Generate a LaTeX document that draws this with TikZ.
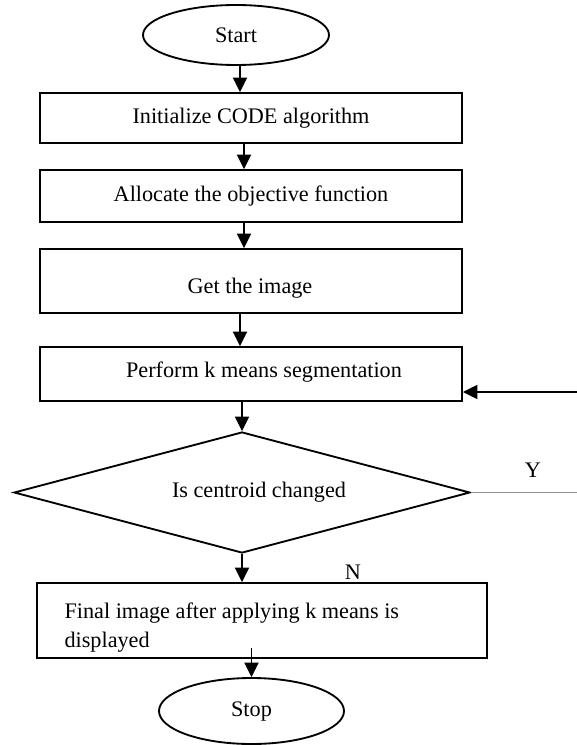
\documentclass[tikz,border=0pt]{standalone}
\usepackage{fontspec}
\setmainfont{Liberation Serif}
\usetikzlibrary{shapes.geometric,arrows.meta,calc}
\begin{document}
\begin{tikzpicture}[x=0.54pt,y=-0.54pt,
  every node/.style={font=\fontsize{12}{15.7}\selectfont},
  flowline/.style={line width=1pt},
  arr/.style={flowline,-{Triangle[length=7.8pt,width=7.6pt]}},
  procbox/.style={draw,flowline,rectangle,inner sep=0pt,minimum width={422*0.54pt}},
  terminal/.style={draw,flowline,ellipse,inner sep=0pt},
  decision/.style={draw,flowline,diamond,inner sep=0pt},
  thinline/.style={line width=0.6pt,draw=black!45}]
\useasboundingbox (0,0) rectangle (577,745);

% terminals, process boxes and the decision
\node[terminal,minimum width={186*0.54pt},minimum height={60*0.54pt}] (start) at (236,35) {Start};
\node[procbox,minimum height={50*0.54pt}] (b1) at (251,118) {Initialize CODE algorithm};
\node[procbox,minimum height={52*0.54pt}] (b2) at (251,196) {Allocate the objective function};
\node[procbox,minimum height={64*0.54pt}] (b3) at (251,281) {};
\node (t3) at (250,288) {Get the image};
\node[procbox,minimum height={54*0.54pt}] (b4) at (251,374) {};
\node (t4) at (264,372) {Perform k means segmentation};
\node[decision,minimum width={456*0.54pt},minimum height={121*0.54pt}] (dia) at (242,492.5) {};
\node (t6) at (259,492) {Is centroid changed};
\node[draw,flowline,rectangle,inner sep=0pt,minimum width={450*0.54pt},minimum height={75*0.54pt}] (b5) at (262,620.5) {};
\node[align=left,anchor=west] (t5) at (58,627.5) {Final image after applying k means is\\displayed};
\node[terminal,minimum width={185*0.54pt},minimum height={66*0.54pt}] (stop) at (251.5,711) {Stop};
\node (ylab) at (533,470) {Y};
\node (nlab) at (353,572) {N};

% helper points for the connectors
\coordinate (xa) at (240,0);
\coordinate (xb) at (244,0);
\coordinate (fb) at (577,392);
\coordinate (s5) at (251.5,648);

% connectors
\draw[arr] (start.south -| xa) -- (b1.north -| xa);
\draw[arr] (b1.south -| xb) -- (b2.north -| xb);
\draw[arr] (b2.south -| xb) -- (b3.north -| xb);
\draw[arr] (b3.south -| xa) -- (b4.north -| xa);
\draw[arr] (b4.south -| dia.north) -- (dia.north);
\draw[arr] (fb) -- (fb -| b4.east);
\draw[thinline] (dia.east) -- (dia.east -| fb);
\draw[arr] (dia.south) -- (dia.south |- b5.north);
\draw[arr] (s5) -- (stop.north);
\end{tikzpicture}
\end{document}
